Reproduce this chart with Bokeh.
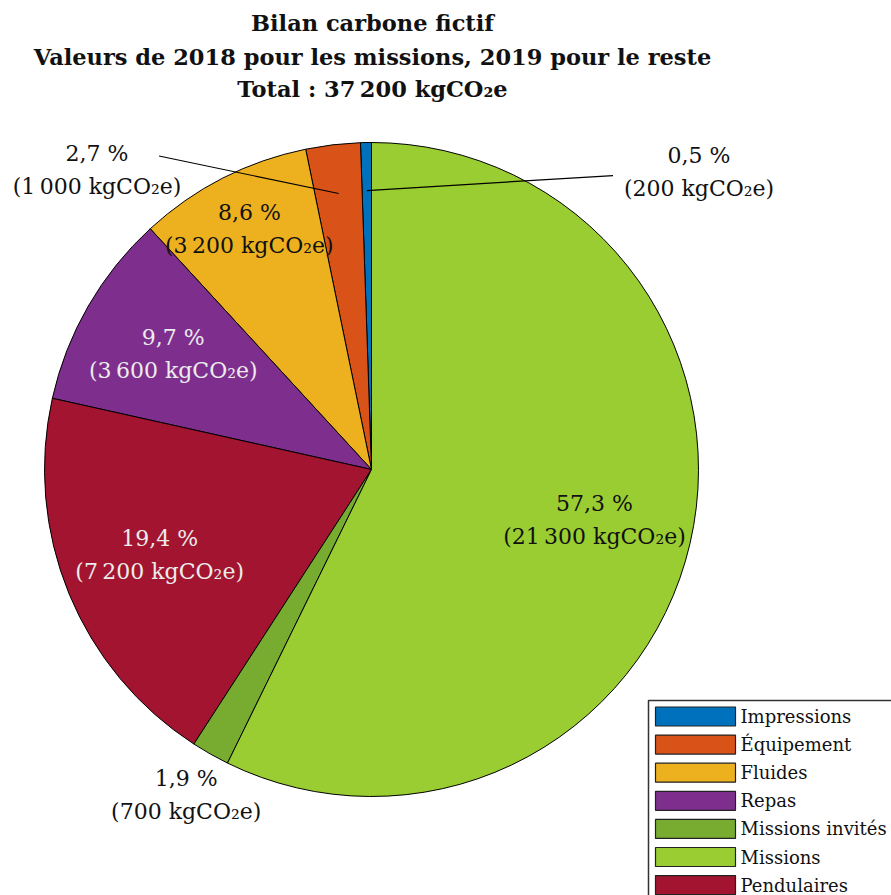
import numpy as np
from bokeh.plotting import figure
from bokeh.models import ColumnDataSource, Range1d
from bokeh.core.properties import value
from bokeh.embed import file_html
from bokeh.resources import INLINE

# ---------------- data ----------------
categories = ["Impressions", "Équipement", "Fluides", "Repas", "Pendulaires",
              "Missions invités", "Missions"]
values_kg = [200, 1000, 3200, 3600, 7200, 700, 21300]
legend_order = ["Impressions", "Équipement", "Fluides", "Repas",
                "Missions invités", "Missions", "Pendulaires"]
title_lines = ["Bilan carbone fictif",
               "Valeurs de 2018 pour les missions, 2019 pour le reste",
               "Total : 37\u202f200 kgCO₂e"]

# ---------------- styles ----------------
colors = {"Impressions": "#0072BD", "Équipement": "#D95319", "Fluides": "#EDB120",
          "Repas": "#7E2F8E", "Pendulaires": "#A2142F",
          "Missions invités": "#77AC30", "Missions": "#9ACD32"}
label_colors = {"Repas": "#ececec", "Pendulaires": "#ececec"}
label_rf = {"Fluides": 0.82, "Repas": 0.70, "Pendulaires": 0.70,
            "Missions invités": 1.15, "Missions": 0.70}
# pinned labels: (label angle deg, label radial factor, pin radial factor, line-end offset px (dx, dy down))
pins = {"Impressions": (42.1, 1.35, 0.853, (-86, 2)),
        "Équipement": (132.6, 1.24, 0.85, (62, -15))}

FONT = "DejaVu Serif"
W, H = 891, 895
CX, CY = 371, H - 469
R = 327

def fmt_kg(v):
    s = f"{v:,}".replace(",", "\u202f")
    return f"({s} kgCO₂e)"

def fmt_pct(v, tot):
    return f"{100 * v / tot:.1f}".replace(".", ",") + " %"

total = sum(values_kg)
fr = np.array(values_kg) / total
cum = np.concatenate([[0], np.cumsum(fr)])
start = np.pi / 2 + 2 * np.pi * cum[:-1]
end = np.pi / 2 + 2 * np.pi * cum[1:]
mid = (start + end) / 2

p = figure(width=W, height=H, output_backend="svg", toolbar_location=None,
           x_range=Range1d(0, W), y_range=Range1d(0, H),
           min_border=0, outline_line_color=None)
p.axis.visible = False
p.grid.visible = False

src = ColumnDataSource(dict(cat=categories, start=start, end=end,
                            color=[colors[c] for c in categories]))
p.wedge(x=CX, y=CY, radius=R, start_angle="start", end_angle="end",
        direction="anticlock", fill_color="color", line_color="black",
        line_width=1, source=src)

lx, ly, l1, l2, lc = [], [], [], [], []
seg = dict(x0=[], y0=[], x1=[], y1=[])
for i, c in enumerate(categories):
    if c in pins:
        a, rf, prf, off = pins[c]
        x = CX + rf * R * np.cos(np.radians(a))
        y = CY + rf * R * np.sin(np.radians(a))
        seg["x0"].append(CX + prf * R * np.cos(mid[i]))
        seg["y0"].append(CY + prf * R * np.sin(mid[i]))
        seg["x1"].append(x + off[0])
        seg["y1"].append(y - off[1])
    else:
        x = CX + label_rf[c] * R * np.cos(mid[i])
        y = CY + label_rf[c] * R * np.sin(mid[i])
    lx.append(x); ly.append(y)
    l1.append(fmt_pct(values_kg[i], total))
    l2.append(fmt_kg(values_kg[i]))
    lc.append(label_colors.get(c, "#111111"))

p.segment(x0="x0", y0="y0", x1="x1", y1="y1", line_color="black", line_width=1.2,
          source=ColumnDataSource(seg))
lsrc = ColumnDataSource(dict(x=lx, y=ly, l1=l1, l2=l2, c=lc))
common = dict(x="x", y="y", text_color="c", text_font=value(FONT),
              text_font_size="22px", text_align="center", text_baseline="middle",
              source=lsrc)
p.text(text="l1", y_offset=-18, **common)
p.text(text="l2", y_offset=15, **common)

# title
p.text(x=[372] * 3, y=[H - 22, H - 56, H - 88], text=title_lines,
       text_font=value(FONT), text_font_size="22.5px", text_font_style="bold",
       text_align="center", text_baseline="middle", text_color="#111111")

# legend (drawn)
p.quad(left=[648], right=[1000], top=[H - 700], bottom=[-40],
       fill_color="white", line_color="#333333", line_width=1.5)
ys = [H - (716 + 28.1 * k) for k in range(len(legend_order))]
p.rect(x=[695] * len(legend_order), y=ys, width=80, height=19,
       fill_color=[colors[c] for c in legend_order], line_color="#222222",
       line_width=1.2)
p.text(x=[740] * len(legend_order), y=ys, text=legend_order,
       text_font=value(FONT), text_font_size="18px", text_align="left",
       text_baseline="middle", text_color="#111111")

open("out.html", "w").write(file_html(p, INLINE))
